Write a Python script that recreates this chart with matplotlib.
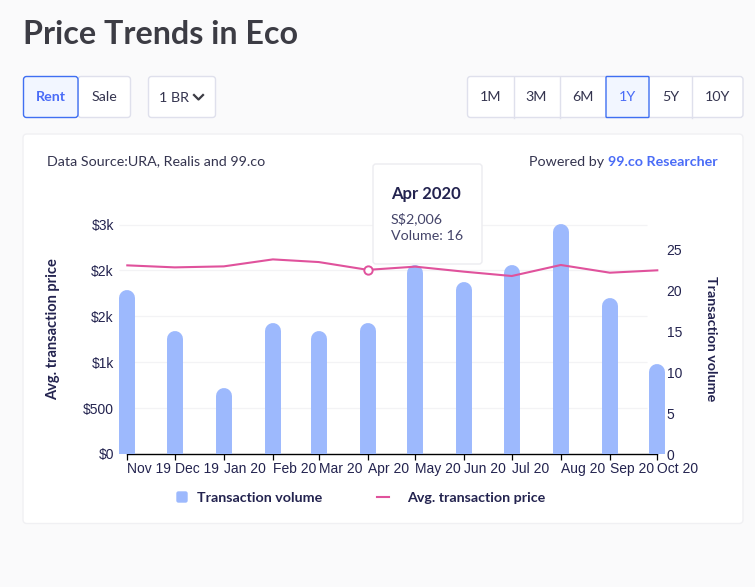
from datetime import datetime

import matplotlib.pyplot as plt
import matplotlib.dates as mdates
from matplotlib.patches import FancyBboxPatch

UI_FONT = "Lato"
AXIS_FONT = "Liberation Sans"
NAVY = "#23234f"
BLUE = "#3f6ff2"
BORDER = "#dfe0ec"


def draw_box(ax, x0, y0, x1, y1, face="white", edge=BORDER, radius=3, lw=1.0, zorder=1):
    """
    Desenha uma caixa arredondada em coordenadas de pixel.
    """
    box = FancyBboxPatch((x0, y0), x1 - x0, y1 - y0, boxstyle=f"round,pad=0,rounding_size={radius}",
                         facecolor=face, edgecolor=edge, linewidth=lw, zorder=zorder)
    ax.add_patch(box)


def draw_page(fig):
    """
    Desenha o fundo da página: título, botões e cartão.
    """
    page = fig.add_axes([0, 0, 1, 1], zorder=0)
    page.set_xlim(0, 755)
    page.set_ylim(587, 0)
    page.axis("off")

    page.text(23, 35, "Price Trends in Eco", fontsize=23.2, fontweight="bold", color="#3c3c44",
              family=UI_FONT, va="center")

    # Botões de tipo de transação
    draw_box(page, 78, 76.5, 130.5, 117.5)
    draw_box(page, 23.5, 76.5, 78, 117.5, face="#f2f6ff", edge=BLUE, zorder=2)
    page.text(50.5, 97, "Rent", fontsize=10.3, fontweight="bold", color="#4a6cf7", family=UI_FONT, ha="center", va="center", zorder=3)
    page.text(104.5, 97, "Sale", fontsize=10.3, color="#34344f", family=UI_FONT, ha="center", va="center")

    draw_box(page, 148.5, 76.5, 215.5, 117.5)
    page.text(174, 97.5, "1 BR", fontsize=10.3, color="#34344f", family=UI_FONT, ha="center", va="center")
    page.plot([194, 198.5, 203], [95, 99.5, 95], color="#3c3c44", lw=1.6)

    # Botões de período
    draw_box(page, 467.5, 76.5, 743, 117.5)
    for x in [513.5, 559.5, 691.5]:
        page.plot([x, x], [76.5, 117.5], color=BORDER, lw=1.0)
    draw_box(page, 606, 76.5, 649, 117.5, face="#f2f6ff", edge=BLUE, radius=1, zorder=2)
    for x, label in zip([490.5, 536.5, 582.5, 627.5, 670.5, 717], ["1M", "3M", "6M", "1Y", "5Y", "10Y"]):
        color = "#4a6cf7" if label == "1Y" else "#34344f"
        page.text(x, 97, label, fontsize=10.3, color=color, family=UI_FONT, ha="center", va="center", zorder=3)

    # Cartão do gráfico
    draw_box(page, 23, 134, 743, 523.5, edge="#f0f0f3", radius=4)
    page.text(47, 161.5, "Data Source:URA, Realis and 99.co", fontsize=10.3, color="#34344f", family=UI_FONT, va="center")
    page.text(529, 161.5, "Powered by", fontsize=10.3, color="#34344f", family=UI_FONT, va="center")
    page.text(608, 161.5, "99.co Researcher", fontsize=10.3, fontweight="bold", color="#4a6cf7", family=UI_FONT, va="center")

    # Legenda
    draw_box(page, 177, 492, 187, 502, face="#9db9fd", edge="#9db9fd", radius=1.5)
    page.text(197, 497.5, "Transaction volume", fontsize=10.25, fontweight="bold", color=NAVY, family=UI_FONT, va="center")
    page.plot([377, 389], [497, 497], color="#e0529c", lw=1.5)
    page.text(407, 497.5, "Avg. transaction price", fontsize=10.25, fontweight="bold", color=NAVY, family=UI_FONT, va="center")


def draw_tooltip(fig):
    """
    Desenha a caixa de informação de Apr 2020 por cima do gráfico.
    """
    top = fig.add_axes([0, 0, 1, 1], zorder=5)
    top.set_xlim(0, 755)
    top.set_ylim(587, 0)
    top.axis("off")
    draw_box(top, 373, 164, 482, 264, edge="#ececf0", radius=3)
    top.text(391, 193.5, "Apr 2020", fontsize=12, fontweight="bold", color=NAVY, family=UI_FONT, va="center")
    top.text(391, 218.5, "S$2,006", fontsize=10.3, color="#45456a", family=UI_FONT, va="center")
    top.text(391, 236.5, "Volume: 16", fontsize=10.3, color="#45456a", family=UI_FONT, va="center")


def plot_price_trends(months, volumes, prices, filename="out.png"):
    """
    Plota volume (barras) e preço médio (linha) e salva a imagem.
    """
    fig = plt.figure(figsize=(7.55, 5.87), dpi=100, facecolor="#fafafb")
    draw_page(fig)

    ax = fig.add_axes([118 / 755, (587 - 454) / 587, 548 / 755, 254 / 587], zorder=1)
    ax.patch.set_visible(False)
    ax_vol = ax.twinx()
    ax_vol.set_zorder(2)
    ax_vol.patch.set_visible(False)
    ax_line = ax.twinx()
    ax_line.set_zorder(3)
    ax_line.patch.set_visible(False)

    x_values = mdates.date2num(months)
    ax.set_xlim(x_values[0] - 5.88, x_values[-1] + 5.5)
    ax.set_ylim(0, 2767)
    ax_line.set_ylim(0, 2767)
    ax_vol.set_ylim(0, 30.98)

    # Linhas de grade por baixo das barras
    ax.hlines([500, 1000, 1500, 2000, 2500], x_values[0] - 5.4, x_values[-1] - 6.6, color="#f3f3f5", lw=0.9)

    # Barras com topo arredondado
    radius = 8 / 8.2
    ax_vol.vlines(x_values, 0, [v - radius for v in volumes], color="#9db9fd", lw=11.5, capstyle="round")

    ax_line.plot(x_values, prices, color="#e0529c", lw=1.5)
    ax_line.plot(x_values[5], prices[5], "o", ms=6, mfc="white", mec="#e0529c", mew=1.4)
    ax_line.set_yticks([])

    # Eixos
    for axis in [ax, ax_vol, ax_line]:
        for side in ["top", "left", "right", "bottom"]:
            axis.spines[side].set_visible(False)
    ax.spines["bottom"].set_visible(True)
    ax.spines["bottom"].set_bounds(x_values[0], x_values[-1])
    ax.spines["bottom"].set_color("black")
    ax.spines["bottom"].set_linewidth(1.0)

    ax.set_xticks(x_values)
    ax.set_xticklabels([m.strftime("%b %y") for m in months], ha="left", fontsize=10, color=NAVY, family=AXIS_FONT)
    ax.tick_params(axis="x", length=4, width=0.9, color="black", pad=2)

    ax.set_yticks([0, 500, 1000, 1500, 2000, 2500])
    ax.set_yticklabels(["$0", "$500", "$1k", "$2k", "$2k", "$3k"], fontsize=10, color=NAVY, family=AXIS_FONT)
    ax.tick_params(axis="y", length=0, pad=3)

    ax_vol.set_yticks([0, 5, 10, 15, 20, 25])
    ax_vol.set_yticklabels(["0", "5", "10", "15", "20", "25"], fontsize=10, color=NAVY, family=AXIS_FONT)
    ax_vol.tick_params(axis="y", length=0, pad=0.5)

    ax.set_ylabel("Avg. transaction price", fontsize=10.5, fontweight="bold", color=NAVY, family=UI_FONT)
    ax.yaxis.set_label_coords(-0.106, 0.492)
    ax_vol.set_ylabel("Transaction volume", fontsize=10.3, fontweight="bold", color=NAVY, family=UI_FONT, rotation=270, va="center")
    ax_vol.yaxis.set_label_coords(1.083, 0.453)

    draw_tooltip(fig)
    fig.savefig(filename, dpi=100, facecolor=fig.get_facecolor())
    plt.close(fig)


if __name__ == "__main__":
    # Valores
    months_data = [datetime(2019, 11, 1), datetime(2019, 12, 1), datetime(2020, 1, 1), datetime(2020, 2, 1),
                   datetime(2020, 3, 1), datetime(2020, 4, 1), datetime(2020, 5, 1), datetime(2020, 6, 1),
                   datetime(2020, 7, 1), datetime(2020, 8, 1), datetime(2020, 9, 1), datetime(2020, 10, 1)]
    volumes_data = [20, 15, 8, 16, 15, 16, 23, 21, 23, 28, 19, 11]  # Transações por mês
    prices_data = [2055, 2033, 2044, 2120, 2091, 2006, 2041, 1986, 1939, 2059, 1975, 2001]  # Preço médio

    plot_price_trends(months_data, volumes_data, prices_data)
